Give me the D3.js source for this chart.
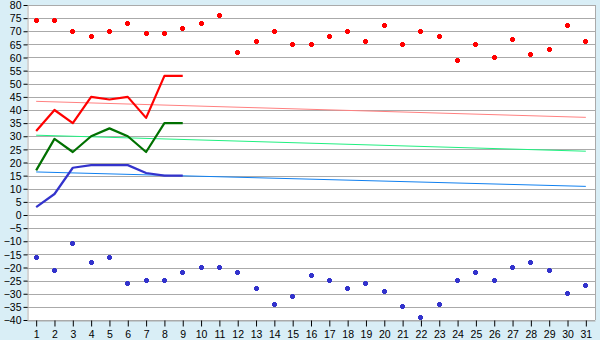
<!DOCTYPE html>
<html>
<head>
<meta charset="utf-8">
<script src="https://cdn.jsdelivr.net/npm/d3@7/dist/d3.min.js"></script>
<style>
  html, body { margin: 0; padding: 0; background: #d9eef6; }
  svg { display: block; }
</style>
</head>
<body>
<script>
var days = d3.range(1, 32);
var yTicks = d3.range(-40, 81, 5);

var recordHigh = [74, 74, 70, 68, 70, 73, 69, 69, 71, 73, 76, 62, 66, 70, 65, 65,
                  68, 70, 66, 72, 65, 70, 68, 59, 65, 60, 67, 61, 63, 72, 66];
var recordLow = [-16, -21, -11, -18, -16, -26, -25, -25, -22, -20, -20, -22, -28, -34, -31, -23,
                 -25, -28, -26, -29, -35, -39, -34, -25, -22, -25, -20, -18, -21, -30, -27];

var obsDays = [1, 2, 3, 4, 5, 6, 7, 8, 9];
var obsHigh = [32, 40, 35, 45, 44, 45, 37, 53, 53];
var obsMean = [17, 29, 24, 30, 33, 30, 24, 35, 35];
var obsLow = [3, 8, 18, 19, 19, 19, 16, 15, 15];

// normals: value on day 1 and on day 31
var normalDays = [1, 31];
var normalHigh = [43.3, 37.2];
var normalMean = [30.4, 24.3];
var normalLow = [16.4, 10.9];

var width = 600;
var height = 340;
var plotLeft = 27, plotRight = 595, plotTop = 5, plotBottom = 320;

var svg = d3.select("body")
  .append("svg")
  .attr("width", width)
  .attr("height", height)
  .style("font-family", "'Liberation Sans', Arial, sans-serif")
  .style("font-size", "10px");

var x = d3.scalePoint()
  .domain(days)
  .range([plotLeft, plotRight])
  .padding(0.5);

var y = d3.scaleLinear()
  .domain([-40, 80])
  .range([plotBottom, plotTop]);

svg.append("rect")
  .attr("x", plotLeft)
  .attr("y", plotTop)
  .attr("width", plotRight - plotLeft)
  .attr("height", plotBottom - plotTop)
  .attr("fill", "white");

// grid
svg.append("g")
  .selectAll("line")
  .data(yTicks)
  .enter()
  .append("line")
  .attr("x1", plotLeft)
  .attr("x2", plotRight)
  .attr("y1", function(d) { return Math.round(y(d)) + 0.5; })
  .attr("y2", function(d) { return Math.round(y(d)) + 0.5; })
  .attr("stroke", "#aaaaaa");

svg.append("line")
  .attr("x1", plotRight + 0.5).attr("x2", plotRight + 0.5)
  .attr("y1", plotTop).attr("y2", plotBottom)
  .attr("stroke", "#aaaaaa");

// axes
var yAxis = svg.append("g")
  .attr("transform", "translate(" + (plotLeft + 0.5) + ",0)")
  .call(d3.axisLeft(y).tickValues(yTicks).tickSize(4).tickSizeOuter(0).tickPadding(2));

var xAxis = svg.append("g")
  .attr("transform", "translate(0," + (Math.round(y(-40)) + 0.5) + ")")
  .call(d3.axisBottom(x).tickSize(6).tickSizeOuter(0).tickPadding(4));

[yAxis, xAxis].forEach(function(a) {
  a.select(".domain").attr("stroke", "#aaaaaa");
  a.selectAll(".tick line").attr("stroke", "#000");
  a.selectAll("text")
    .attr("fill", "#000")
    .style("font-family", "'Liberation Sans', Arial, sans-serif")
    .style("font-size", "10.5px");
});
yAxis.selectAll(".tick text").attr("dy", "0.35em");

// normal lines
var line = d3.line()
  .x(function(d) { return x(d[0]); })
  .y(function(d) { return y(d[1]); });

function drawLine(xs, ys, color, w) {
  svg.append("path")
    .datum(d3.zip(xs, ys))
    .attr("d", line)
    .attr("fill", "none")
    .attr("stroke", color)
    .attr("stroke-width", w)
    .attr("stroke-linejoin", "round");
}

drawLine(normalDays, normalHigh, "#ff8080", 1);
drawLine(normalDays, normalMean, "#20f080", 1);
drawLine(normalDays, normalLow, "#1080f0", 1);

drawLine(obsDays, obsHigh, "#ff0000", 2.2);
drawLine(obsDays, obsMean, "#007000", 2.2);
drawLine(obsDays, obsLow, "#3333cc", 2.2);

// record markers
var marker = "M-1.5,-2.5H1.5V-1.5H2.5V1.5H1.5V2.5H-1.5V1.5H-2.5V-1.5H-1.5Z";

function drawMarkers(vals, color) {
  svg.append("g")
    .selectAll("path")
    .data(vals)
    .enter()
    .append("path")
    .attr("d", marker)
    .attr("transform", function(d, i) {
      return "translate(" + (Math.floor(x(days[i])) + 0.5) + "," + (Math.floor(y(d)) + 0.5) + ")";
    })
    .attr("shape-rendering", "crispEdges")
    .attr("fill", color);
}

drawMarkers(recordHigh, "#ff0000");
drawMarkers(recordLow, "#3333cc");
</script>
</body>
</html>
